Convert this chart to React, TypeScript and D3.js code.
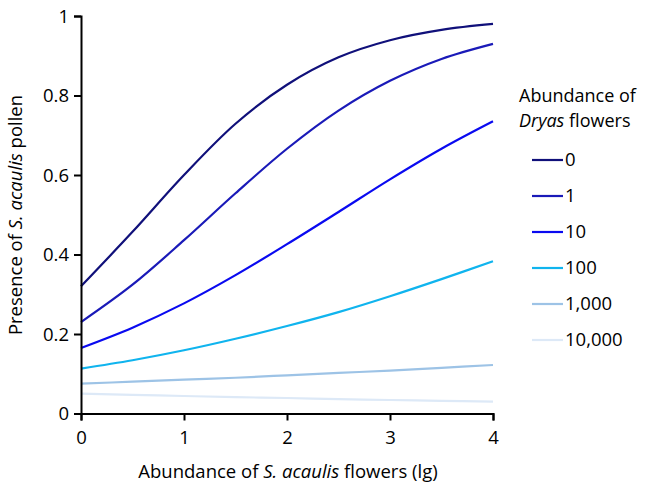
import React from 'react'
import * as d3 from 'd3'

// x positions (lg abundance of S. acaulis flowers)
const xs = [0, 0.5, 1, 1.5, 2, 2.5, 3, 3.5, 4]

// one array per Dryas abundance level
const dryas0 = [0.32, 0.457, 0.6, 0.729, 0.827, 0.896, 0.939, 0.965, 0.98]
const dryas1 = [0.23, 0.324, 0.436, 0.554, 0.666, 0.762, 0.837, 0.892, 0.93]
const dryas10 = [0.165, 0.216, 0.277, 0.348, 0.426, 0.507, 0.589, 0.666, 0.735]
const dryas100 = [0.113, 0.134, 0.159, 0.188, 0.22, 0.255, 0.295, 0.338, 0.383]
const dryas1000 = [0.075, 0.08, 0.085, 0.09, 0.096, 0.102, 0.108, 0.115, 0.122]
const dryas10000 = [0.05, 0.047, 0.044, 0.041, 0.039, 0.036, 0.034, 0.032, 0.03]

const seriesLabels = ['0', '1', '10', '100', '1,000', '10,000']
const seriesValues = [dryas0, dryas1, dryas10, dryas100, dryas1000, dryas10000]
const colors = ['#10107a', '#1a1ab8', '#0a0af0', '#10b4ee', '#9dc3e6', '#dde9f7']

const xTicks = [0, 1, 2, 3, 4]
const yTicks = [0, 0.2, 0.4, 0.6, 0.8, 1]

const width = 646
const height = 485
const font = 'Open Sans, Lato, sans-serif'
const fs = '18.5px'

export default function App() {
  const ref = React.useRef<SVGSVGElement>(null)

  React.useEffect(() => {
    const svg = d3.select(ref.current)
    svg.selectAll('*').remove()

    const x = d3.scaleLinear().domain([0, 4]).range([81, 493])
    const y = d3.scaleLinear().domain([0, 1]).range([413.5, 16])

    const line = d3.line<number>()
      .x((d, i) => x(xs[i]))
      .y(d => y(d))
      .curve(d3.curveCatmullRom)

    // curves, light ones first
    seriesValues.slice().reverse().forEach((vals, j) => {
      const i = seriesValues.length - 1 - j
      svg.append('path')
        .attr('d', line(vals))
        .attr('fill', 'none')
        .attr('stroke', colors[i])
        .attr('stroke-width', 2.2)
    })

    const xAxis = svg.append('g')
      .attr('transform', `translate(0,${y(0)})`)
      .call(d3.axisBottom(x).tickValues(xTicks).tickSize(7).tickFormat(d3.format('d')))
    const yAxis = svg.append('g')
      .attr('transform', `translate(${x(0)},0)`)
      .call(d3.axisLeft(y).tickValues(yTicks).tickSize(7).tickFormat(d => String(+d)))

    ;[xAxis, yAxis].forEach(g => {
      g.select('.domain').attr('stroke', '#000').attr('stroke-width', 2)
      g.selectAll('.tick line').attr('stroke', '#000').attr('stroke-width', 2)
      g.selectAll('.tick text')
        .attr('fill', '#000')
        .style('font-family', font)
        .style('font-size', fs)
    })
    xAxis.selectAll('.tick text').attr('y', 14).attr('dy', '0.9em')
    yAxis.selectAll('.tick text').attr('x', -12).attr('dy', '0.35em')

    // x title
    const xt = svg.append('text')
      .attr('x', 288).attr('y', 478)
      .attr('text-anchor', 'middle')
      .style('font-family', font).style('font-size', fs)
    xt.append('tspan').text('Abundance of ')
    xt.append('tspan').attr('font-style', 'italic').text('S. acaulis')
    xt.append('tspan').text(' flowers (lg)')

    // y title
    const yt = svg.append('text')
      .attr('transform', `translate(22,215) rotate(-90)`)
      .attr('text-anchor', 'middle')
      .style('font-family', font).style('font-size', fs)
    yt.append('tspan').text('Presence of ')
    yt.append('tspan').attr('font-style', 'italic').text('S. acaulis')
    yt.append('tspan').text(' pollen')

    // legend
    const lg = svg.append('g')
    lg.append('text').attr('x', 519).attr('y', 102)
      .style('font-family', font).style('font-size', '18px')
      .text('Abundance of')
    const l2 = lg.append('text').attr('x', 519).attr('y', 127)
      .style('font-family', font).style('font-size', '18px')
    l2.append('tspan').attr('font-style', 'italic').text('Dryas')
    l2.append('tspan').text(' flowers')

    seriesLabels.forEach((lab, i) => {
      const ly = 160 + i * 36
      lg.append('line')
        .attr('x1', 532).attr('x2', 563)
        .attr('y1', ly).attr('y2', ly)
        .attr('stroke', colors[i]).attr('stroke-width', 2.2)
      lg.append('text').attr('x', 565).attr('y', ly).attr('dy', '0.35em')
        .style('font-family', font).style('font-size', fs)
        .text(lab)
    })
  }, [])

  return (
    <svg ref={ref} width={width} height={height}
      style={{ position: 'absolute', left: 0, top: 0, background: '#fff' }} />
  )
}
